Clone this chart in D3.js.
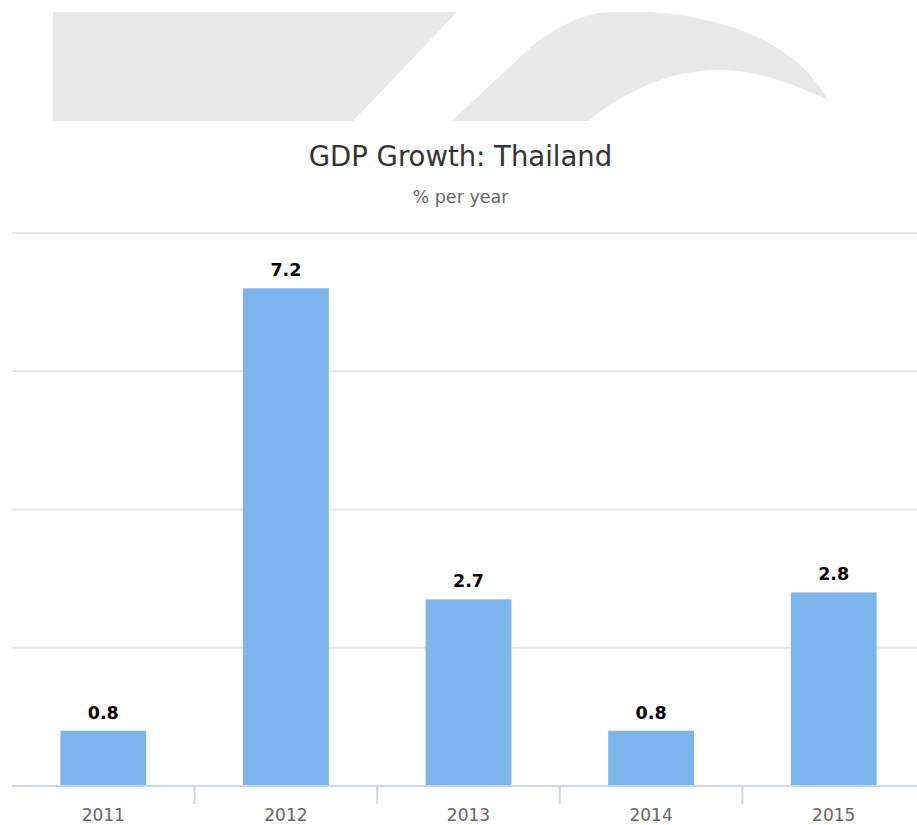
<!DOCTYPE html>
<html>
<head>
<meta charset="utf-8">
<script src="https://cdn.jsdelivr.net/npm/d3@7"></script>
<style>
  html, body { margin: 0; padding: 0; background: #fff; }
  svg { display: block; font-family: "DejaVu Sans", sans-serif; }
</style>
</head>
<body>
<svg id="chart" width="917" height="825"></svg>
<script>
// GDP growth, Thailand (% per year)
const years = ["2011", "2012", "2013", "2014", "2015"];
const growth = [0.8, 7.2, 2.7, 0.8, 2.8];
const yTicks = [0, 2, 4, 6, 8];

const titleText = "GDP Growth: Thailand";
const subtitleText = "% per year";

const svg = d3.select("#chart");
const W = 917, H = 825;
const plot = { left: 12, right: 925, top: 233, bottom: 786 };

// Decorative logo band at the top
const logo = svg.append("g").attr("fill", "#e8e8e8");
logo.append("path").attr("d", "M53,12 L457,12 L353,121 L53,121 Z");
logo.append("path").attr("d",
  "M452,121 L533,45 C560,25 585,12 613,12 L650,12 C740,18 800,50 828,100 " +
  "C780,78 740,66 701,71 C660,75 620,95 588,121 Z");

// Titles
svg.append("text")
  .attr("x", W / 2 + 2).attr("y", 166)
  .attr("text-anchor", "middle")
  .attr("font-size", 27.5).attr("fill", "#333")
  .text(titleText);
svg.append("text")
  .attr("x", W / 2 + 2).attr("y", 203)
  .attr("text-anchor", "middle")
  .attr("font-size", 17.5).attr("fill", "#666")
  .text(subtitleText);

// Scales
const x = d3.scaleBand().domain(years).range([plot.left, plot.right]).paddingInner(0.53).paddingOuter(0.265);
const xb = d3.scaleBand().domain(years).range([plot.left, plot.right]);
const y = d3.scaleLinear().domain([0, 8]).range([plot.bottom, plot.top]);

// Gridlines
svg.append("g").selectAll("line")
  .data(yTicks.filter(d => d > 0))
  .join("line")
  .attr("x1", plot.left).attr("x2", W)
  .attr("y1", d => y(d)).attr("y2", d => y(d))
  .attr("stroke", "#e6e6e6").attr("stroke-width", 2);

// Bars
svg.append("g").selectAll("rect")
  .data(years.map((yr, i) => ({ yr, v: growth[i] })))
  .join("rect")
  .attr("x", d => x(d.yr))
  .attr("width", x.bandwidth())
  .attr("y", d => y(d.v))
  .attr("height", d => y(0) - y(d.v))
  .attr("fill", "#7cb5ec");

// Value labels
svg.append("g").selectAll("text")
  .data(years.map((yr, i) => ({ yr, v: growth[i] })))
  .join("text")
  .attr("x", d => x(d.yr) + x.bandwidth() / 2)
  .attr("y", d => y(d.v) - 12)
  .attr("text-anchor", "middle")
  .attr("font-size", 17.5).attr("font-weight", "bold").attr("fill", "#000")
  .text(d => d.v.toFixed(1));

// X axis: baseline, category boundary ticks, labels
const axis = svg.append("g");
axis.append("line")
  .attr("x1", plot.left).attr("x2", W)
  .attr("y1", plot.bottom).attr("y2", plot.bottom)
  .attr("stroke", "#ccd6eb").attr("stroke-width", 2);
axis.selectAll("line.tick")
  .data(years.slice(1))
  .join("line").attr("class", "tick")
  .attr("x1", d => xb(d)).attr("x2", d => xb(d))
  .attr("y1", plot.bottom).attr("y2", plot.bottom + 18)
  .attr("stroke", "#ccd6eb").attr("stroke-width", 2);
axis.selectAll("text")
  .data(years)
  .join("text")
  .attr("x", d => xb(d) + xb.bandwidth() / 2)
  .attr("y", 821)
  .attr("text-anchor", "middle")
  .attr("font-size", 17).attr("fill", "#666")
  .text(d => d);
</script>
</body>
</html>
